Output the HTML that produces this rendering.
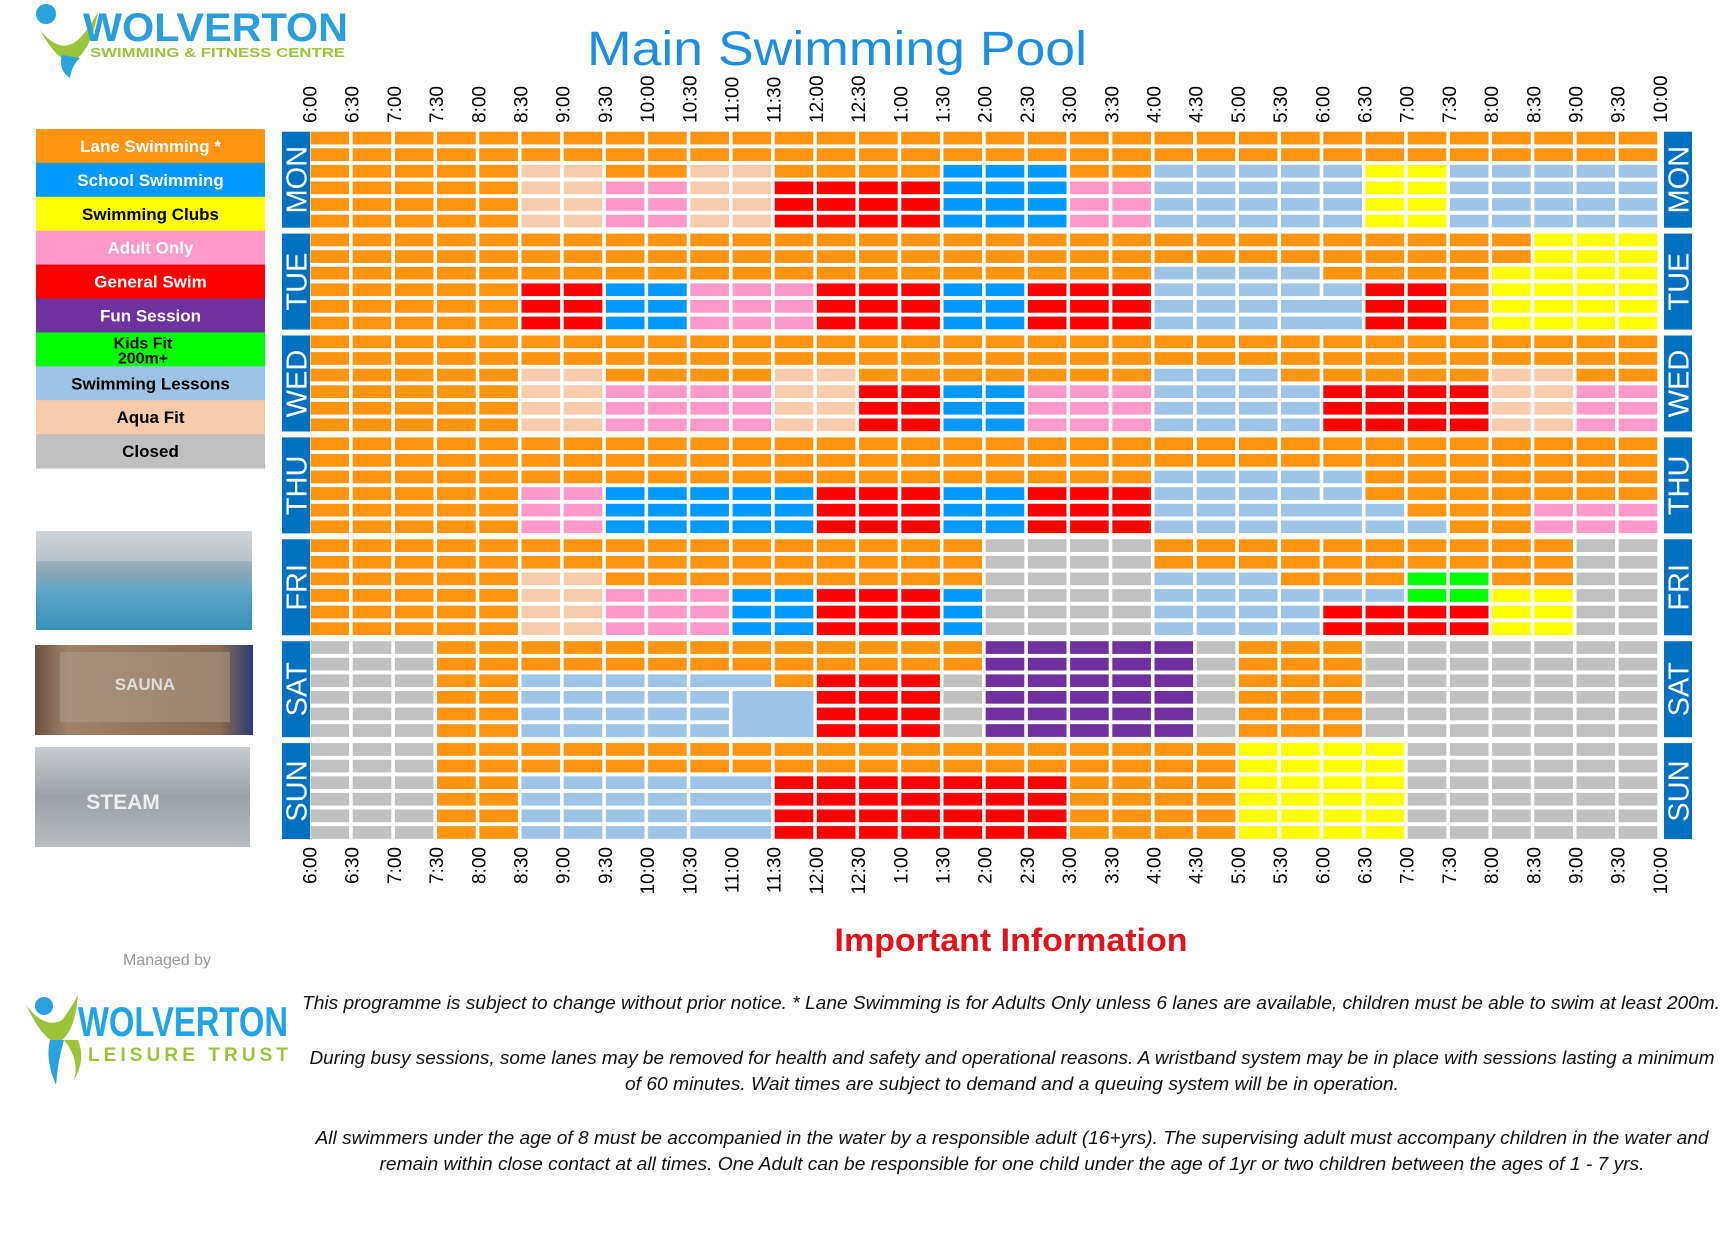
<!DOCTYPE html>
<html><head><meta charset="utf-8"><style>
html,body{margin:0;padding:0;background:#fff;}
svg{display:block;}
</style></head><body>
<svg id="s" xmlns="http://www.w3.org/2000/svg" width="1723" height="1251" viewBox="0 0 1723 1251" font-family="Liberation Sans, sans-serif">
<rect width="1723" height="1251" fill="#fff"/>
<!-- top logo -->
<g>
<path d="M40 30 Q60 55 78 40 Q88 30 98 12 Q92 45 78 58 Q62 70 40 30Z" fill="#9dc33b"/>
<path d="M62 55 Q58 70 70 78 Q72 65 80 58Z" fill="#29a3df"/>
<circle cx="46" cy="14" r="10" fill="#29a3df"/>
<text x="83" y="41" font-size="40" font-weight="bold" fill="#2a9fdc" textLength="265" lengthAdjust="spacingAndGlyphs">WOLVERTON</text>
<text x="90" y="57" font-size="13" font-weight="bold" fill="#9dc33b" textLength="255" lengthAdjust="spacingAndGlyphs">SWIMMING &amp; FITNESS CENTRE</text>
</g>
<text x="837" y="65" font-size="48" fill="#1e8fe0" text-anchor="middle" textLength="500" lengthAdjust="spacingAndGlyphs">Main Swimming Pool</text>
<g id="legend"></g>
<!-- photos -->
<defs>
<linearGradient id="pool" x1="0" y1="0" x2="0" y2="1"><stop offset="0" stop-color="#d8dde0"/><stop offset="0.4" stop-color="#8fa6b4"/><stop offset="0.6" stop-color="#5fa6c8"/><stop offset="1" stop-color="#3a8fb8"/></linearGradient>
<linearGradient id="sauna" x1="0" y1="0" x2="1" y2="0"><stop offset="0" stop-color="#6a5040"/><stop offset="0.15" stop-color="#a08268"/><stop offset="0.85" stop-color="#8a6a50"/><stop offset="1" stop-color="#2a3a7a"/></linearGradient>
<linearGradient id="steam" x1="0" y1="0" x2="0" y2="1"><stop offset="0" stop-color="#c8ccd0"/><stop offset="0.5" stop-color="#9aa0a6"/><stop offset="1" stop-color="#b8bcc0"/></linearGradient>
</defs>
<rect x="36" y="531" width="216" height="99" fill="url(#pool)"/>
<rect x="36" y="531" width="216" height="30" fill="#c8ccd0" opacity="0.6"/>
<rect x="35" y="645" width="218" height="90" fill="url(#sauna)"/>
<rect x="60" y="652" width="170" height="70" fill="#b0a090" opacity="0.5"/>
<text x="145" y="690" font-size="17" fill="#ddd" text-anchor="middle" font-weight="bold">SAUNA</text>
<rect x="35" y="747" width="215" height="100" fill="url(#steam)"/>
<text x="123" y="809" font-size="21" fill="#eee" text-anchor="middle" font-weight="bold">STEAM</text>
<g id="grid"></g>
<g id="labels" font-size="19" fill="#000"></g>
<text x="1011" y="951" font-size="32" font-weight="bold" fill="#e8111a" text-anchor="middle" textLength="353" lengthAdjust="spacingAndGlyphs">Important Information</text>
<text x="167" y="965" font-size="16" fill="#999" text-anchor="middle">Managed by</text>
<!-- bottom logo -->
<g>
<path d="M26 1005 Q45 1030 62 1020 Q70 1010 78 995 Q75 1030 62 1040 Q48 1050 26 1005Z" fill="#9dc33b"/>
<path d="M50 1040 Q45 1060 56 1085 Q58 1060 64 1040Z" fill="#29a3df"/>
<path d="M64 1040 Q80 1060 74 1080 Q86 1060 78 1040Z" fill="#9dc33b"/>
<circle cx="44" cy="1006" r="9" fill="#29a3df"/>
<text x="78" y="1036" font-size="42" font-weight="bold" fill="#1fa5e6" textLength="210" lengthAdjust="spacingAndGlyphs">WOLVERTON</text>
<text x="88" y="1061" font-size="19" font-weight="bold" fill="#9dc33b" textLength="200" lengthAdjust="spacing">LEISURE TRUST</text>
</g>
<g font-size="18" font-style="italic" fill="#111" text-anchor="middle">
<text x="1011" y="1009" textLength="1418" lengthAdjust="spacingAndGlyphs">This programme is subject to change without prior notice.  * Lane Swimming is for Adults Only unless 6 lanes are available, children must be able to swim at least 200m.</text>
<text x="1012" y="1064" textLength="1405" lengthAdjust="spacingAndGlyphs">During busy sessions, some lanes may be removed for health and safety and operational reasons. A wristband system may be in place with sessions lasting a minimum</text>
<text x="1012" y="1090" textLength="774" lengthAdjust="spacingAndGlyphs">of 60 minutes. Wait times are subject to demand and a queuing system will be in operation.</text>
<text x="1012" y="1144" textLength="1393" lengthAdjust="spacingAndGlyphs">All swimmers under the age of 8 must be accompanied in the water by a responsible adult (16+yrs). The supervising adult must accompany children in the water and</text>
<text x="1012" y="1170" textLength="1265" lengthAdjust="spacingAndGlyphs">remain within close contact at all times.  One Adult can be responsible for one child under the age of 1yr or two children between the ages of 1 - 7 yrs.</text>
</g>
</svg>
<script>
(function(){
var NS="http://www.w3.org/2000/svg";
function el(p,t,a,txt){var e=document.createElementNS(NS,t);for(var k in a)e.setAttribute(k,a[k]);if(txt!=null)e.textContent=txt;p.appendChild(e);return e;}
var col={O:"#ff9410",B:"#0099ff",Y:"#ffff00",P:"#ff99cc",R:"#ff0000",U:"#7030a0",G:"#00ff00",L:"#9dc3e6",A:"#f8cbad",C:"#c0c0c0"};
var lg=document.getElementById("legend");
var items=[["Lane Swimming *","O","#fff"],["School Swimming","B","#fff"],["Swimming Clubs","Y","#000"],["Adult Only","P","#fff"],["General Swim","R","#fff"],["Fun Session","U","#fff"],["Kids Fit|200m+","G","#000"],["Swimming Lessons","L","#000"],["Aqua Fit","A","#000"],["Closed","C","#000"]];
items.forEach(function(it,i){var y=129+i*33.9;el(lg,"rect",{x:36,y:y,width:229,height:34.5,fill:col[it[1]]});
 var parts=it[0].split("|");
 if(parts.length==1) el(lg,"text",{x:150.5,y:y+23,"font-size":17,"font-weight":"bold",fill:it[2],"text-anchor":"middle"},parts[0]);
 else {el(lg,"text",{x:143,y:y+16,"font-size":16,"font-weight":"bold",fill:it[2],"text-anchor":"middle"},parts[0]);el(lg,"text",{x:143,y:y+31,"font-size":16,"font-weight":"bold",fill:it[2],"text-anchor":"middle"},parts[1]);}
});
var D=[
["MON",["OOOOOOOOOOOOOOOOOOOOOOOOOOOOOOOO","OOOOOOOOOOOOOOOOOOOOOOOOOOOOOOOO","OOOOOAAOOAAOOOOBBBOOLLLLLYYLLLLL","OOOOOAAPPAARRRRBBBPPLLLLLYYLLLLL","OOOOOAAPPAARRRRBBBPPLLLLLYYLLLLL","OOOOOAAPPAARRRRBBBPPLLLLLYYLLLLL"]],
["TUE",["OOOOOOOOOOOOOOOOOOOOOOOOOOOOOYYY","OOOOOOOOOOOOOOOOOOOOOOOOOOOOOYYY","OOOOOOOOOOOOOOOOOOOOLLLLOOOOYYYY","OOOOORRBBPPPRRRBBRRRLLLLLRROYYYY","OOOOORRBBPPPRRRBBRRRLLLLlRROYYYY","OOOOORRBBPPPRRRBBRRRLLLLlRROYYYY"]],
["WED",["OOOOOOOOOOOOOOOOOOOOOOOOOOOOOOOO","OOOOOOOOOOOOOOOOOOOOOOOOOOOOOOOO","OOOOOAAOOOOAAOOOOOOOLLLOOOOOAAOO","OOOOOAAPPPPAARRBBPPPLLLLRRRRAAPP","OOOOOAAPPPPAARRBBPPPLLLLRRRRAAPP","OOOOOAAPPPPAARRBBPPPLLLLRRRRAAPP"]],
["THU",["OOOOOOOOOOOOOOOOOOOOOOOOOOOOOOOO","OOOOOOOOOOOOOOOOOOOOOOOOOOOOOOOO","OOOOOOOOOOOOOOOOOOOOLLLLLOOOOOOO","OOOOOPPBBBBBRRRBBRRRLLLLLOOOOOOO","OOOOOPPBBBBBRRRBBRRRLLLLlLOOOPPP","OOOOOPPBBBBBRRRBBRRRLLLLlLLOOPPP"]],
["FRI",["OOOOOOOOOOOOOOOOCCCCOOOOOOOOOOCC","OOOOOOOOOOOOOOOOCCCCOOOOOOOOOOCC","OOOOOAAOOOOOOOOOCCCCLLLOOOGGOOCC","OOOOOAAPPPBBRRRBCCCCLLLLLLGGYYCC","OOOOOAAPPPBBRRRBCCCCLLLLRRRRYYCC","OOOOOAAPPPBBRRRBCCCCLLLLRRRRYYCC"]],
["SAT",["CCCOOOOOOOOOOOOOUUUUUCOOOCCCCCCC","CCCOOOOOOOOOOOOOUUUUUCOOOCCCCCCC","CCCOOLLLLLlORRRCUUUUUCOOOCCCCCCC","CCCOOLLLLLLlRRRCUUUUUCOOOCCCCCCC","CCCOOLLLLLLlRRRCUUUUUCOOOCCCCCCC","CCCOOLLLLLLlRRRCUUUUUCOOOCCCCCCC"]],
["SUN",["CCCOOOOOOOOOOOOOOOOOOOYYYYCCCCCC","CCCOOOOOOOOOOOOOOOOOOOYYYYCCCCCC","CCCOOLLLLLlRRRRRRROOOOYYYYCCCCCC","CCCOOLLLLLlRRRRRRROOOOYYYYCCCCCC","CCCOOLLLLLlRRRRRRROOOOYYYYCCCCCC","CCCOOLLLLLlRRRRRRROOOOYYYYCCCCCC"]]
];
var g=document.getElementById("grid");
var X0=310.5,P=42.2,W=38.6,RH=12.7,RP=16.6,BP=101.9,Y0=131.7;
D.forEach(function(d,di){
 var bt=Y0+BP*di;
 [282,1664].forEach(function(bx){
  el(g,"rect",{x:bx,y:bt,width:28,height:96,fill:"#0070c0"});
  el(g,"text",{x:0,y:0,"font-size":29,fill:"#fff","text-anchor":"middle",transform:"translate("+(bx+24.5)+","+(bt+48)+") rotate(-90)"},d[0]);
 });
 d[1].forEach(function(row,ri){
  var y=bt+RP*ri;
  for(var i=0;i<32;i++){
   var c=row[i];var up=c.toUpperCase();
   var j=i;
   while(j+1<32&&row[j+1]===up.toLowerCase()&&row[j+1]!==up){j++;}
   var w=W+(j-i)*P;
   el(g,"rect",{x:X0+P*i,y:y,width:w,height:RH,fill:col[up]});
   i=j;
  }
 });
});
var st=Y0+BP*5;
el(g,"rect",{x:X0+P*10,y:st+RP*3,width:W+P,height:RP*2+RH,fill:col.L});
var lab=document.getElementById("labels");
var times=["6:00","6:30","7:00","7:30","8:00","8:30","9:00","9:30","10:00","10:30","11:00","11:30","12:00","12:30","1:00","1:30","2:00","2:30","3:00","3:30","4:00","4:30","5:00","5:30","6:00","6:30","7:00","7:30","8:00","8:30","9:00","9:30","10:00"];
times.forEach(function(t,i){
 var x=X0-1+P*i+7;
 el(lab,"text",{x:0,y:0,transform:"translate("+x+",123) rotate(-90)"},t);
 el(lab,"text",{x:0,y:0,"text-anchor":"end",transform:"translate("+x+",847) rotate(-90)"},t);
});
})();
</script>
</body></html>
